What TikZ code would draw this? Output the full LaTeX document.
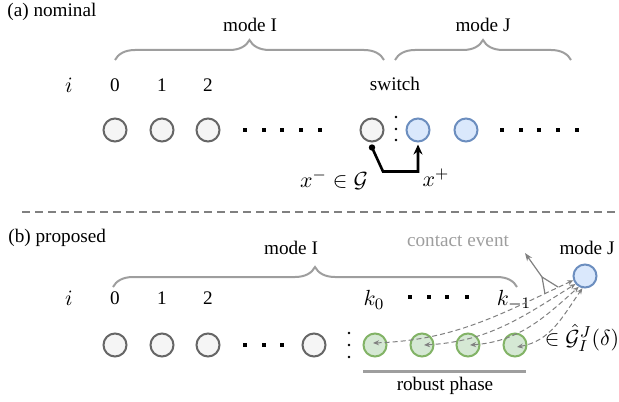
\documentclass[tikz,border=0pt]{standalone}
\usepackage{fontspec}
\setmainfont{Liberation Serif}
\newfontfamily\tmsfont{Liberation Serif}
\usetikzlibrary{decorations.pathreplacing,arrows.meta}
\definecolor{gfill}{HTML}{F5F5F5}
\definecolor{gdraw}{HTML}{666666}
\definecolor{bfill}{HTML}{DAE8FC}
\definecolor{bdraw}{HTML}{6C8EBF}
\definecolor{grfill}{HTML}{D5E8D4}
\definecolor{grdraw}{HTML}{82B366}
\definecolor{brc}{HTML}{9E9E9E}
\tikzset{
  txt/.style={inner sep=0pt, font=\tmsfont\fontsize{9.6}{11}\selectfont},
  mth/.style={inner sep=0pt, font=\fontsize{11}{13}\selectfont},
  st/.style={circle, minimum size=11.5pt, inner sep=0pt, line width=1pt},
  gst/.style={st, fill=gfill, draw=gdraw},
  bst/.style={st, fill=bfill, draw=bdraw},
  grst/.style={st, fill=grfill, draw=grdraw},
  sq/.style={rectangle, fill=black, minimum size=2pt, inner sep=0pt},
  cd/.style={circle, fill=black, minimum size=1.4pt, inner sep=0pt},
  brc/.style={draw=brc, line width=1pt, decorate, decoration={brace, amplitude=10pt}},
  dcurve/.style={draw=gray, dashed, line width=0.5pt, dash pattern=on 2.5pt off 1.5pt, {Stealth[length=3pt,width=2.5pt]}-{Stealth[length=3pt,width=2.5pt]}},
}
\begin{document}
\begin{tikzpicture}[x=0.5pt,y=0.5pt]
\useasboundingbox (0,0) rectangle (619,-401);
% ---------- (a) ----------
\node[txt, anchor=west] (la) at (7,-12) {(a) nominal};
\node[txt] (mIa) at (250,-25) {mode I};
\node[txt] (mJa) at (483,-25) {mode J};
\draw[brc] (115,-60) -- (384,-60);
\draw[brc] (395,-60) -- (571,-60);
\node[mth] (ia) at (69,-85) {$i$};
\node[txt] (a0) at (115,-85) {0};
\node[txt] (a1) at (162,-85) {1};
\node[txt] (a2) at (208,-85) {2};
\node[txt] (swl) at (395,-84) {switch};
\node[gst] (c0) at (115,-130) {};
\node[gst] (c1) at (162,-130) {};
\node[gst] (c2) at (208,-130) {};
\foreach \x [count=\n] in {245,264,282,301,320} \node[sq] (da\n) at (\x,-130) {};
\node[gst] (sw) at (372,-130) {};
\foreach \y [count=\n] in {117,129,140} \node[cd] (ca\n) at (396,-\y) {};
\node[bst] (j1) at (418,-130) {};
\node[bst] (j2) at (466,-130) {};
\foreach \x [count=\n] in {502,521,539,558,577} \node[sq] (db\n) at (\x,-130) {};
\coordinate (xs) at ([yshift=-2.5pt]sw.south);
\fill (xs) circle (1.6pt);
\draw[line width=1.3pt, -{Stealth[length=5pt,width=4.5pt]}] (xs) -- ++(11,-24) -| ([yshift=-1pt]j1.south);
\node[mth] (xm) at (334,-180) {$x^-\in\mathcal{G}$};
\node[mth] (xp) at (436,-178) {$x^+$};
% separator
\coordinate (s1) at (22,-212);
\coordinate (s2) at (616,-212);
\draw[gray, line width=1pt, dash pattern=on 4pt off 2.5pt] (s1) -- (s2);
% ---------- (b) ----------
\node[txt, anchor=west] (lb) at (8,-238) {(b) proposed};
\node[txt] (mIb) at (291,-248) {mode I};
\draw[brc] (113,-287) -- (517,-287);
\node[mth] (ib) at (69,-298) {$i$};
\node[txt] (b0) at (115,-298) {0};
\node[txt] (b1) at (162,-298) {1};
\node[txt] (b2) at (208,-298) {2};
\node[mth] (k0) at (374,-300) {$k_0$};
\foreach \x [count=\n] in {410,429,447,467} \node[sq] (dk\n) at (\x,-297) {};
\node[mth] (km) at (514,-300) {$k_{-1}$};
\node[gst] (e0) at (115,-345) {};
\node[gst] (e1) at (162,-345) {};
\node[gst] (e2) at (208,-345) {};
\foreach \x [count=\n] in {245,264,282} \node[sq] (dc\n) at (\x,-345) {};
\node[gst] (e3) at (314,-345) {};
\foreach \y [count=\n] in {333,345,357} \node[cd] (cb\n) at (349,-\y) {};
\node[grst] (g1) at (375,-345) {};
\node[grst] (g2) at (422,-345) {};
\node[grst] (g3) at (468,-345) {};
\node[grst] (g4) at (515,-345) {};
\coordinate (r1) at (363,-371);
\coordinate (r2) at (526,-371);
\draw[draw=brc, line width=1.5pt] (r1) -- (r2);
\node[txt] (rp) at (445,-386) {robust phase};
\node[txt] (mJb) at (587,-248) {mode J};
\node[bst] (J) at (585,-276) {};
\node[txt, text=brc] (ce) at (458,-241) {contact event};
\coordinate (ctip) at (525,-253);
\coordinate (cj) at (542,-277);
\coordinate (ca) at (545,-294);
\coordinate (cb) at (558,-287);
\draw[gray, line width=0.6pt, -{Stealth[length=4pt,width=3pt]}] (cj) -- (ctip);
\draw[gray, line width=0.6pt] (ca) -- (cj) -- (cb);
\draw[dcurve] ([xshift=-1pt,yshift=1pt]g1.center) to[out=2,in=205] (J.200);
\draw[dcurve] ([xshift=1pt]g2.center) to[out=3,in=212] (J.220);
\draw[dcurve] ([xshift=1pt]g3.center) to[out=4,in=222] (J.240);
\draw[dcurve] ([xshift=1pt,yshift=-1pt]g4.center) to[out=10,in=235] (J.258);
\node[mth] (gh) at (582,-338) {$\in\hat{\mathcal{G}}_I^J(\delta)$};
\end{tikzpicture}
\end{document}
